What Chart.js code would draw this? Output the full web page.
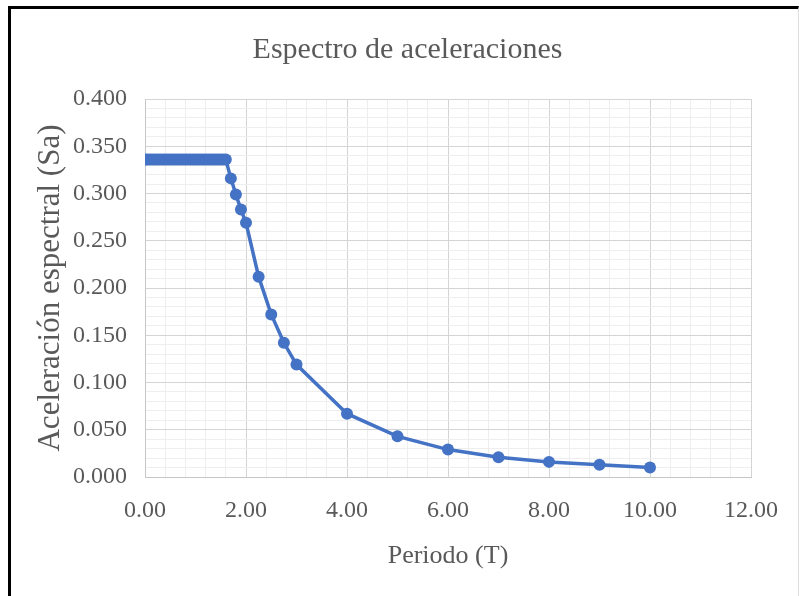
<!DOCTYPE html>
<html>
<head>
<meta charset="utf-8">
<script src="https://cdn.jsdelivr.net/npm/chart.js@4"></script>
<style>
  html, body { margin: 0; padding: 0; background: #fff; }
  #wrap { position: relative; width: 799px; height: 596px; }
  #frame { position: absolute; left: 8px; top: 6px; right: 0; bottom: -4px;
           border-top: 3px solid #000; border-left: 3px solid #000; border-right: 1px solid #ddd;
           pointer-events: none; }
</style>
</head>
<body>
<div id="wrap">
  <canvas id="c"></canvas>
  <div id="frame"></div>
</div>
<script>
const chartTitle = 'Espectro de aceleraciones';
const xTitle = 'Periodo (T)';
const yTitle = 'Aceleración espectral (Sa)';
const periods = [0, 0.05, 0.1, 0.15, 0.2, 0.25, 0.3, 0.35, 0.4, 0.45, 0.5, 0.55, 0.6, 0.65, 0.7, 0.75, 0.8,
                 0.85, 0.9, 0.95, 1.0, 1.05, 1.1, 1.15, 1.2, 1.25, 1.3, 1.35, 1.4, 1.45, 1.5, 1.55, 1.6,
                 1.7, 1.8, 1.9, 2.0, 2.25, 2.5, 2.75, 3.0, 4.0, 5.0, 6.0, 7.0, 8.0, 9.0, 10.0];
const saValues = [0.336, 0.336, 0.336, 0.336, 0.336, 0.336, 0.336, 0.336, 0.336, 0.336, 0.336, 0.336, 0.336, 0.336, 0.336, 0.336, 0.336,
                  0.336, 0.336, 0.336, 0.336, 0.336, 0.336, 0.336, 0.336, 0.336, 0.336, 0.336, 0.336, 0.336, 0.336, 0.336, 0.336,
                  0.316, 0.299, 0.283, 0.269, 0.212, 0.172, 0.142, 0.119, 0.067, 0.043, 0.029, 0.021, 0.016, 0.013, 0.010];
const xMajorStep = 2, xMinorStep = 0.4, xMax = 12;
const yMajorStep = 0.05, yMinorStep = 0.01, yMax = 0.4;

const points = periods.map((t, i) => ({ x: t, y: saValues[i] }));
const isMajor = (v, step) => Math.abs(v / step - Math.round(v / step)) < 1e-6;
const FONT = "'Liberation Serif', 'Times New Roman', serif";
const TXT = '#595959';

new Chart(document.getElementById('c'), {
  type: 'scatter',
  data: {
    datasets: [{
      data: points,
      showLine: true,
      borderColor: '#4472c4',
      backgroundColor: '#4472c4',
      borderWidth: 3.5,
      pointRadius: 6,
      pointBorderWidth: 0,
      pointBackgroundColor: '#4472c4',
      tension: 0
    }]
  },
  options: {
    responsive: true,
    maintainAspectRatio: false,
    animation: false,
    layout: { padding: { left: 16, right: 0, top: 0, bottom: 0 } },
    plugins: {
      legend: { display: false },
      tooltip: { enabled: false },
      title: {
        display: true,
        text: chartTitle,
        color: TXT,
        font: { family: FONT, size: 30, weight: 'normal', lineHeight: 1.2 },
        padding: { top: 32, bottom: 31 }
      }
    },
    scales: {
      x: {
        type: 'linear',
        min: 0, max: xMax,
        afterFit: s => { s.height = 119; },
        ticks: {
          stepSize: xMinorStep,
          autoSkip: false, maxRotation: 0,
          padding: 19,
          color: TXT,
          font: { family: FONT, size: 24 },
          callback: v => isMajor(v, xMajorStep) ? Number(v).toFixed(2) : ''
        },
        grid: {
          drawTicks: false,
          color: c => isMajor(c.tick.value, xMajorStep) ? '#d4d4d4' : '#eeeeee',
          lineWidth: 1
        },
        border: { display: true, color: '#c6c6c6' },
        title: {
          display: true, text: xTitle, color: TXT,
          font: { family: FONT, size: 26, lineHeight: 1.2 },
          padding: { top: 0, bottom: 24 }
        }
      },
      y: {
        type: 'linear',
        min: 0, max: yMax,
        afterFit: s => { s.width = 129; },
        ticks: {
          stepSize: yMinorStep,
          autoSkip: false,
          padding: 18,
          color: TXT,
          font: { family: FONT, size: 24 },
          callback: v => isMajor(v, yMajorStep) ? Number(v).toFixed(3) : ''
        },
        grid: {
          drawTicks: false,
          color: c => isMajor(c.tick.value, yMajorStep) ? '#d4d4d4' : '#eeeeee',
          lineWidth: 1
        },
        border: { display: true, color: '#c6c6c6' },
        title: {
          display: true, text: yTitle, color: TXT,
          font: { family: FONT, size: 31, lineHeight: 1.2 },
          padding: { top: 16, bottom: 0 }
        }
      },
      rightSpace: {
        type: 'linear',
        position: 'right',
        display: true,
        min: 0, max: 1,
        afterFit: s => { s.width = 48; },
        grid: { display: false, drawTicks: false },
        border: { display: false },
        ticks: { display: false },
        title: { display: false }
      }
    }
  }
});
</script>
</body>
</html>
